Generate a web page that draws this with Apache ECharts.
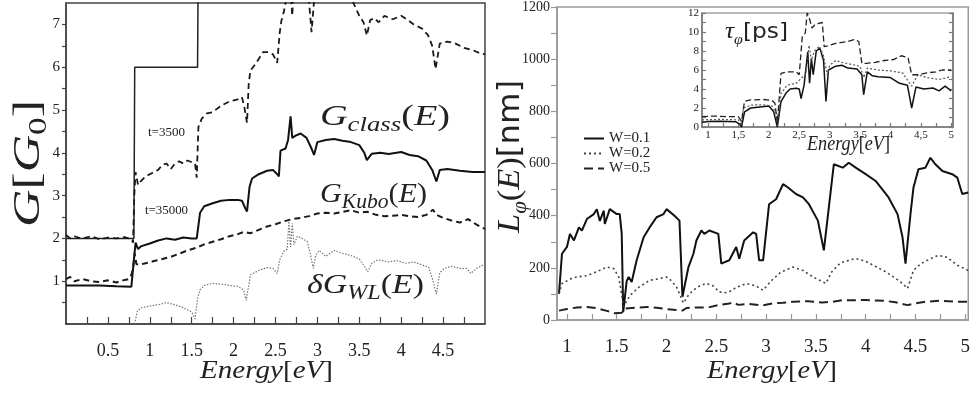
<!DOCTYPE html>
<html><head><meta charset="utf-8">
<script src="https://cdn.jsdelivr.net/npm/echarts@6/dist/echarts.min.js"></script>
<style>html,body{margin:0;padding:0;background:#fff}#c{width:973px;height:396px}</style>
</head><body><div id="c"></div>
<script>
// ---------- DATA (E in eV) ----------
// Left panel: conductance G [G0]
const gStep = [[0,2],[0.81,2],[0.82,6],[1.57,6],[1.58,9]];
const gT3500 = [[0,2.08],[0.05,2.0],[0.1,2.05],[0.15,2.02],[0.2,2.0],[0.3,2.05],[0.4,1.98],[0.5,2.02],[0.6,2.0],[0.7,2.03],[0.78,1.98],[0.8,1.9],[0.815,3.0],[0.83,3.55],[0.86,3.25],[0.9,3.35],[0.95,3.45],[1.0,3.5],[1.1,3.6],[1.15,3.72],[1.2,3.75],[1.25,3.62],[1.3,3.75],[1.35,3.8],[1.4,3.75],[1.45,3.82],[1.5,3.78],[1.54,3.75],[1.56,3.42],[1.58,4.6],[1.62,4.8],[1.68,4.92],[1.75,4.95],[1.85,5.1],[1.95,5.2],[2.05,5.25],[2.1,5.3],[2.13,5.05],[2.16,4.7],[2.18,5.6],[2.2,5.92],[2.27,6.1],[2.35,6.35],[2.42,6.35],[2.47,6.3],[2.52,6.1],[2.55,6.8],[2.57,7.08],[2.6,7.3],[2.63,7.6],[2.67,8],[2.7,7.2],[2.72,8],[2.8,8.2],[2.88,8],[2.91,7.3],[2.93,6.82],[2.95,7.3],[2.98,8],[3.2,8.2],[3.38,7.8],[3.43,7.5],[3.5,7.2],[3.55,7.05],[3.59,6.74],[3.63,7.1],[3.68,7.15],[3.73,7.05],[3.8,7.2],[3.9,7.12],[4.0,7.2],[4.08,7.1],[4.15,7.0],[4.25,6.9],[4.32,6.75],[4.37,6.5],[4.41,5.96],[4.43,5.96],[4.46,6.55],[4.55,6.6],[4.65,6.55],[4.75,6.45],[4.85,6.4],[4.95,6.32],[5.0,6.3]];
const gClass = [[0,0.9],[0.2,0.9],[0.4,0.9],[0.6,0.88],[0.78,0.87],[0.8,0.85],[0.815,1.6],[0.83,1.9],[0.86,1.75],[0.9,1.82],[1.0,1.88],[1.1,1.95],[1.2,2.0],[1.3,1.97],[1.4,2.02],[1.5,2.0],[1.56,2.0],[1.58,2.3],[1.6,2.6],[1.65,2.75],[1.75,2.82],[1.85,2.88],[1.95,2.9],[2.05,2.9],[2.1,2.88],[2.14,2.7],[2.16,2.63],[2.19,3.2],[2.22,3.4],[2.3,3.5],[2.4,3.58],[2.47,3.6],[2.52,3.5],[2.54,3.45],[2.56,4.05],[2.62,4.1],[2.65,4.3],[2.68,4.85],[2.7,4.35],[2.74,4.4],[2.8,4.45],[2.87,4.35],[2.93,4.1],[2.96,3.95],[3.0,4.25],[3.1,4.3],[3.2,4.32],[3.3,4.28],[3.4,4.25],[3.5,4.18],[3.56,4.0],[3.59,3.83],[3.65,3.98],[3.75,4.0],[3.85,3.97],[4.0,4.02],[4.1,3.95],[4.2,3.92],[4.3,3.82],[4.37,3.6],[4.42,3.33],[4.46,3.6],[4.55,3.62],[4.7,3.58],[4.85,3.55],[5.0,3.55]];
const gKubo = [[0,1.05],[0.05,1.1],[0.1,1.0],[0.2,1.05],[0.3,1.0],[0.4,0.98],[0.5,1.02],[0.6,0.97],[0.7,1.03],[0.75,1.05],[0.78,1.15],[0.8,1.3],[0.82,1.65],[0.84,1.4],[0.87,1.38],[0.95,1.42],[1.05,1.47],[1.15,1.52],[1.25,1.57],[1.35,1.64],[1.45,1.72],[1.55,1.78],[1.65,1.86],[1.75,1.92],[1.85,1.98],[1.95,2.05],[2.05,2.1],[2.12,2.15],[2.2,2.12],[2.3,2.2],[2.4,2.28],[2.5,2.33],[2.6,2.4],[2.7,2.45],[2.8,2.48],[2.9,2.52],[3.0,2.58],[3.1,2.6],[3.2,2.58],[3.3,2.62],[3.4,2.66],[3.5,2.6],[3.6,2.62],[3.7,2.55],[3.8,2.52],[3.9,2.53],[4.0,2.55],[4.1,2.52],[4.2,2.5],[4.3,2.55],[4.38,2.67],[4.42,2.55],[4.5,2.48],[4.6,2.42],[4.7,2.37],[4.8,2.45],[4.9,2.32],[5.0,2.22]];
const dGWL = [[0.82,0.0],[0.85,0.3],[0.9,0.38],[1.0,0.42],[1.1,0.45],[1.2,0.5],[1.3,0.45],[1.4,0.38],[1.5,0.28],[1.54,0.12],[1.57,0.6],[1.6,0.8],[1.65,0.9],[1.75,0.95],[1.85,0.93],[1.95,0.9],[2.05,0.88],[2.12,0.8],[2.15,0.55],[2.18,0.9],[2.2,1.15],[2.3,1.25],[2.4,1.32],[2.47,1.3],[2.52,1.18],[2.55,1.5],[2.6,1.7],[2.64,1.75],[2.66,2.4],[2.68,1.8],[2.7,2.35],[2.72,1.85],[2.76,2.05],[2.82,2.0],[2.88,1.92],[2.92,1.6],[2.95,1.3],[2.98,1.6],[3.02,1.72],[3.1,1.58],[3.2,1.72],[3.3,1.65],[3.4,1.6],[3.5,1.52],[3.56,1.35],[3.6,1.22],[3.65,1.42],[3.72,1.5],[3.85,1.45],[3.95,1.48],[4.05,1.42],[4.15,1.45],[4.25,1.38],[4.33,1.32],[4.38,1.0],[4.42,0.7],[4.46,1.2],[4.52,1.3],[4.6,1.35],[4.7,1.3],[4.78,1.3],[4.83,1.18],[4.9,1.3],[5.0,1.4]];

// Right panel: dephasing length L_phi [nm]
const lW01 = [[0.92,100],[0.95,254],[1.0,280],[1.03,330],[1.07,305],[1.12,355],[1.15,343],[1.2,387],[1.27,406],[1.3,425],[1.33,380],[1.37,419],[1.38,368],[1.43,425],[1.5,406],[1.53,406],[1.55,330],[1.565,30],[1.6,150],[1.62,165],[1.65,146],[1.7,229],[1.77,317],[1.83,355],[1.9,394],[1.97,406],[2.0,425],[2.08,400],[2.13,381],[2.16,89],[2.22,203],[2.27,254],[2.3,305],[2.35,343],[2.38,330],[2.43,343],[2.52,330],[2.55,216],[2.63,229],[2.7,280],[2.73,235],[2.78,305],[2.87,336],[2.9,330],[2.93,229],[2.97,229],[3.03,444],[3.1,463],[3.17,521],[3.22,508],[3.3,483],[3.37,470],[3.43,444],[3.52,381],[3.58,267],[3.63,432],[3.68,597],[3.77,584],[3.83,603],[3.9,584],[4.0,559],[4.1,533],[4.23,470],[4.32,406],[4.37,317],[4.4,216],[4.45,406],[4.48,508],[4.53,578],[4.6,584],[4.65,622],[4.7,597],[4.77,571],[4.87,559],[4.92,546],[4.97,483],[5.03,489]];
const lW02 = [[0.92,100],[0.95,140],[1.0,150],[1.05,160],[1.1,165],[1.2,170],[1.3,185],[1.4,203],[1.47,197],[1.52,165],[1.57,51],[1.6,75],[1.65,100],[1.72,125],[1.83,152],[1.92,158],[2.0,165],[2.05,150],[2.1,127],[2.17,65],[2.22,95],[2.27,115],[2.33,130],[2.4,141],[2.47,130],[2.53,108],[2.58,104],[2.63,108],[2.7,125],[2.8,140],[2.9,130],[2.97,114],[3.05,150],[3.15,184],[3.27,203],[3.37,190],[3.47,165],[3.55,150],[3.6,140],[3.66,185],[3.75,220],[3.9,236],[4.0,225],[4.1,205],[4.2,185],[4.3,160],[4.37,140],[4.42,121],[4.48,190],[4.55,215],[4.65,235],[4.73,248],[4.82,240],[4.92,210],[5.03,190]];
const lW05 = [[0.92,36],[1.0,42],[1.1,48],[1.2,50],[1.3,45],[1.4,35],[1.48,26],[1.55,28],[1.58,44],[1.65,46],[1.8,50],[1.9,47],[2.0,42],[2.1,38],[2.16,36],[2.2,46],[2.3,48],[2.42,48],[2.52,57],[2.63,63],[2.67,68],[2.72,58],[2.82,62],[2.97,56],[3.07,64],[3.17,66],[3.27,70],[3.42,72],[3.57,67],[3.67,70],[3.77,76],[3.9,76],[4.0,77],[4.1,75],[4.2,73],[4.3,68],[4.42,57],[4.5,64],[4.6,70],[4.75,74],[4.9,70],[5.03,70]];

// Inset: dephasing time tau_phi [ps]
const tW01 = [[0.9,0.5],[1.0,0.58],[1.2,0.6],[1.45,0.56],[1.52,0.3],[1.55,0.0],[1.6,1.6],[1.7,2.0],[1.85,2.1],[2.0,2.2],[2.08,1.6],[2.14,0.0],[2.2,2.67],[2.28,3.55],[2.35,4.0],[2.45,4.07],[2.5,4.0],[2.53,3.0],[2.58,4.4],[2.64,7.9],[2.67,4.6],[2.7,7.2],[2.73,5.5],[2.78,8.0],[2.84,8.3],[2.9,7.0],[2.94,2.7],[2.98,6.0],[3.1,6.4],[3.2,6.5],[3.3,6.2],[3.45,6.1],[3.53,5.5],[3.56,3.4],[3.62,5.8],[3.7,5.4],[3.8,5.3],[4.0,5.2],[4.15,4.6],[4.28,4.4],[4.35,2.0],[4.42,4.2],[4.55,4.0],[4.7,4.1],[4.8,3.8],[4.9,4.3],[5.0,3.8]];
const tW02 = [[0.9,0.75],[1.2,0.8],[1.5,0.75],[1.55,0.2],[1.58,1.97],[1.7,2.3],[1.9,2.35],[2.05,2.2],[2.12,1.5],[2.14,0.2],[2.2,3.5],[2.3,4.4],[2.45,4.6],[2.53,5.1],[2.6,5.5],[2.64,7.0],[2.66,8.6],[2.7,7.0],[2.75,8.0],[2.83,8.5],[2.9,7.5],[2.96,5.5],[3.0,6.5],[3.1,7.0],[3.2,6.8],[3.35,6.6],[3.5,6.4],[3.56,5.2],[3.62,6.2],[3.8,6.0],[4.0,5.9],[4.2,5.7],[4.35,4.3],[4.45,5.5],[4.6,5.2],[4.8,5.0],[5.0,5.3]];
const tW05 = [[0.9,1.1],[1.1,1.15],[1.3,1.1],[1.5,1.08],[1.55,0.6],[1.58,0.4],[1.6,2.7],[1.7,2.85],[1.9,2.9],[2.05,2.8],[2.1,2.5],[2.14,0.4],[2.2,5.65],[2.3,5.8],[2.45,5.8],[2.5,5.5],[2.55,9.5],[2.6,9.9],[2.63,12.0],[2.66,11.6],[2.71,10.4],[2.76,10.8],[2.82,10.9],[2.88,11.0],[2.91,8.45],[3.0,8.6],[3.1,8.8],[3.2,8.9],[3.3,9.0],[3.4,9.2],[3.48,9.0],[3.53,6.7],[3.6,6.7],[3.75,6.8],[3.9,7.0],[4.05,7.1],[4.18,7.5],[4.29,7.3],[4.35,5.5],[4.45,5.5],[4.6,5.7],[4.75,5.8],[4.85,6.0],[5.0,6.0]];

// Tick / label values
const leftXTicks = [0.25,0.5,0.75,1,1.25,1.5,1.75,2,2.25,2.5,2.75,3,3.25,3.5,3.75,4,4.25,4.5,4.75];
const leftXLabels = [0.5,1,1.5,2,2.5,3,3.5,4,4.5];
const leftYTicks = [0.5,1,1.5,2,2.5,3,3.5,4,4.5,5,5.5,6,6.5,7];
const leftYLabels = [1,2,3,4,5,6,7];
const rightXTicks = [1,1.25,1.5,1.75,2,2.25,2.5,2.75,3,3.25,3.5,3.75,4,4.25,4.5,4.75,5];
const rightXLabels = [1,1.5,2,2.5,3,3.5,4,4.5,5];
const rightYTicks = [0,100,200,300,400,500,600,700,800,900,1000,1100,1200];
const rightYLabels = [0,200,400,600,800,1000,1200];
const insetXTicks = [1,1.25,1.5,1.75,2,2.25,2.5,2.75,3,3.25,3.5,3.75,4,4.25,4.5,4.75,5];
const insetXLabels = [1,1.5,2,2.5,3,3.5,4,4.5,5];
const insetYTicks = [0,1,2,3,4,5,6,7,8,9,10,11,12];
const insetYLabels = [0,2,4,6,8,10,12];
const legendNames = ['W=0.1','W=0.2','W=0.5'];

// ---------- helpers ----------
const SERIF = '"Liberation Serif", "DejaVu Serif", serif';
const SANS = '"DejaVu Sans", "Liberation Sans", sans-serif';
const mctx = document.createElement('canvas').getContext('2d');
function fontOf(p){ return (p.it ? 'italic ' : '') + p.size + 'px ' + (p.sans ? SANS : SERIF); }
function mathLabel(x, y, width, pieces, rot){
  let cx = 0; const kids = [];
  pieces.forEach(p => {
    const f = fontOf(p); mctx.font = f;
    const w = mctx.measureText(p.t).width;
    kids.push({type:'text', x: cx, y: -0.34*p.size + (p.dy||0),
      style:{text:p.t, font:f, fill:'#222', align:'left', verticalAlign:'middle'}});
    cx += w + (p.gap||0);
  });
  return {type:'group', x:x, y:y, rotation: rot||0, scaleX: width/cx, children: kids, z: 100};
}

const chart = echarts.init(document.getElementById('c'), null, {renderer:'canvas'});
const axisTxt = {fontFamily: SERIF, color:'#222'};

function xAxisDef(grid, min, max, ticks, labels, o){
  return Object.assign({type:'value', gridIndex:grid, min:min, max:max,
    axisLine:{show:true, onZero:false, lineStyle:{color:o.color, width:1.5}},
    axisTick:{show:true, inside:true, length:o.tickLen||6, customValues:ticks, lineStyle:{color:o.color, width:1.2}},
    axisLabel:Object.assign({show:true, customValues:labels, margin:o.margin, fontSize:o.fs, formatter:o.fmt||(v=>String(v))}, axisTxt),
    splitLine:{show:false}}, o.extra||{});
}
function yAxisDef(grid, min, max, ticks, labels, o){
  return Object.assign({type:'value', gridIndex:grid, min:min, max:max,
    axisLine:{show:true, onZero:false, lineStyle:{color:o.color, width:1.5}},
    axisTick:{show:true, inside:!!o.inside, length:o.tickLen||5, customValues:ticks, lineStyle:{color:o.color, width:1.2}},
    axisLabel:Object.assign({show:labels!==null, customValues:labels||[], margin:o.margin, fontSize:o.fs, formatter:v=>String(v)}, axisTxt),
    splitLine:{show:false}}, o.extra||{});
}
function line(name, data, xi, yi, color, width, type, z){
  return {type:'line', name:name, data:data, xAxisIndex:xi, yAxisIndex:yi, showSymbol:false, symbol:'none',
    lineStyle:{color:color, width:width, type:type}, itemStyle:{color:color}, clip:true, z:z||2, animation:false};
}

const option = {
  animation:false,
  backgroundColor:'#fff',
  grid:[
    {left:66, top:3, width:419, height:321, show:true, borderColor:'#444', borderWidth:1.5, backgroundColor:'transparent'},
    {left:557, top:5, width:413, height:315, show:true, borderColor:'#999', borderWidth:1.5, backgroundColor:'transparent'},
    {left:702, top:13, width:251, height:114, show:true, borderColor:'#777', borderWidth:1.2, backgroundColor:'#fff'}
  ],
  xAxis:[
    xAxisDef(0, 0, 5, leftXTicks, leftXLabels, {color:'#444', margin:18, fs:18, tickLen:7}),
    xAxisDef(1, 0.9, 5.03, rightXTicks, rightXLabels, {color:'#999', margin:18, fs:19, tickLen:6}),
    xAxisDef(2, 0.9, 5.03, insetXTicks, insetXLabels, {color:'#777', margin:3, fs:11, tickLen:4, fmt:v=>String(v).replace('.',',')})
  ],
  yAxis:[
    yAxisDef(0, 0, 7.5, leftYTicks, leftYLabels, {color:'#444', margin:6, fs:15, tickLen:4}),
    yAxisDef(1, 0, 1200, rightYTicks, rightYLabels, {color:'#999', margin:7, fs:14, tickLen:6}),
    yAxisDef(2, 0, 12, insetYTicks, insetYLabels, {color:'#777', margin:3, fs:11, tickLen:4, inside:true}),
    yAxisDef(2, 0, 12, insetYTicks, null, {color:'#777', margin:3, fs:11, tickLen:4, inside:true, extra:{position:'right'}})
  ],
  legend:{
    data:legendNames, orient:'vertical', left:578, top:126, itemWidth:20, itemHeight:10, itemGap:0,
    itemStyle:{opacity:0, borderWidth:0},
    textStyle:{fontFamily:SERIF, fontSize:15, color:'#222'}
  },
  series:[
    line('step', gStep, 0, 0, '#222', 1.5, 'solid'),
    line('t3500', gT3500, 0, 0, '#1a1a1a', 1.8, [6,4]),
    line('gclass', gClass, 0, 0, '#111', 2, 'solid'),
    line('gkubo', gKubo, 0, 0, '#1a1a1a', 2, [6,4]),
    line('dgwl', dGWL, 0, 0, '#777', 1.2, [1.5,1.5]),
    line('W=0.1', lW01, 1, 1, '#111', 2, 'solid'),
    line('W=0.2', lW02, 1, 1, '#444', 1.6, [2,3]),
    line('W=0.5', lW05, 1, 1, '#222', 2, [9,5]),
    line('tau01', tW01, 2, 2, '#111', 1.5, 'solid', 10),
    line('tau02', tW02, 2, 2, '#555', 1.2, [2,2], 10),
    line('tau05', tW05, 2, 2, '#222', 1.3, [6,3], 10)
  ],
  graphic:[
    mathLabel(42, 227, 127, [{t:'G',it:1,size:38},{t:'[',size:38},{t:'G',it:1,size:38},{t:'0',size:26,dy:6},{t:']',size:38}], Math.PI/2),
    mathLabel(200, 380, 133, [{t:'Energy',it:1,size:26},{t:'[',size:26},{t:'eV',it:1,size:26},{t:']',size:26}]),
    mathLabel(707, 380, 130, [{t:'Energy',it:1,size:26},{t:'[',size:26},{t:'eV',it:1,size:26},{t:']',size:26}]),
    mathLabel(521, 233, 153, [{t:'L',it:1,size:32},{t:'φ',it:1,size:21,dy:7},{t:'(',size:32},{t:'E',it:1,size:32},{t:')',size:32},{t:'[nm]',sans:1,size:30}], Math.PI/2),
    mathLabel(725, 40, 63, [{t:'τ',it:1,size:24},{t:'φ',it:1,size:15,dy:5},{t:'[ps]',sans:1,size:22}]),
    mathLabel(807, 152, 83, [{t:'Energy',it:1,size:20},{t:'[',size:20},{t:'eV',it:1,size:20},{t:']',size:20}]),
    mathLabel(320, 127, 130, [{t:'G',it:1,size:30},{t:'class',it:1,size:21,dy:6},{t:'(',size:30},{t:'E',it:1,size:30},{t:')',size:30}]),
    mathLabel(320, 204, 107, [{t:'G',it:1,size:28},{t:'Kubo',it:1,size:20,dy:6},{t:'(',size:28},{t:'E',it:1,size:28},{t:')',size:28}]),
    mathLabel(307, 295, 117, [{t:'δ',it:1,size:28},{t:'G',it:1,size:28},{t:'WL',it:1,size:20,dy:6},{t:'(',size:28},{t:'E',it:1,size:28},{t:')',size:28}]),
    mathLabel(148, 137, 37, [{t:'t=3500',size:12.5}]),
    mathLabel(145, 215, 43, [{t:'t=35000',size:12.5}])
  ]
};
chart.setOption(option);
</script></body></html>
